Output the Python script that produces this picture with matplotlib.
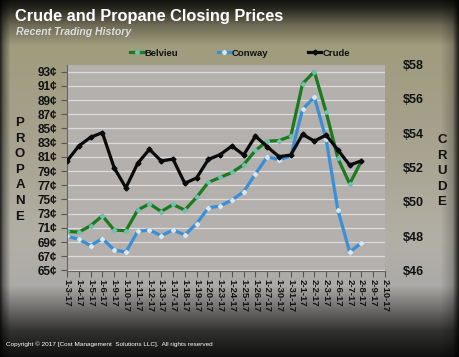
import numpy as np
import matplotlib
matplotlib.use("Agg")
import matplotlib.pyplot as plt

plt.rcParams['font.family'] = ['Liberation Sans', 'DejaVu Sans']

dates = ["1-3-17", "1-4-17", "1-5-17", "1-6-17", "1-9-17", "1-10-17", "1-11-17",
         "1-12-17", "1-13-17", "1-17-17", "1-18-17", "1-19-17", "1-20-17", "1-23-17",
         "1-24-17", "1-25-17", "1-26-17", "1-27-17", "1-30-17", "1-31-17", "2-1-17",
         "2-2-17", "2-3-17", "2-6-17", "2-7-17", "2-8-17", "2-9-17", "2-10-17"]

belvieu = [70.5, 70.4, 71.3, 72.7, 70.7, 70.6, 73.5, 74.4, 73.3, 74.3, 73.5, 75.3,
           77.4, 78.1, 78.8, 79.9, 81.9, 83.2, 83.3, 83.9, 91.3, 93.0, 87.3, 80.8,
           77.2, 80.4]
conway = [69.8, 69.4, 68.5, 69.5, 67.9, 67.6, 70.5, 70.7, 69.9, 70.7, 70.0, 71.6,
          73.8, 74.1, 74.9, 76.1, 78.6, 81.0, 80.6, 81.1, 87.7, 89.4, 83.5, 73.5,
          67.6, 68.9]
crude = [52.38, 53.25, 53.76, 54.03, 51.99, 50.82, 52.24, 53.06, 52.38, 52.49,
         51.08, 51.39, 52.47, 52.75, 53.25, 52.73, 53.83, 53.21, 52.63, 52.73,
         53.93, 53.54, 53.89, 53.02, 52.14, 52.39]

left_ticks = list(range(65, 94, 2))
right_ticks = list(range(46, 59, 2))

W, H = 460, 357
fig = plt.figure(figsize=(W / 100, H / 100), dpi=100)

# background gradient
bg = fig.add_axes([0, 0, 1, 1])
yy = np.arange(H)
ys = [0, 8, 25, 45, 120, 240, 285, 305, 330, 357]
rs = [18, 40, 110, 160, 165, 178, 172, 120, 50, 15]
gs = [18, 40, 106, 156, 160, 175, 170, 118, 50, 15]
bs = [14, 32, 85, 126, 138, 166, 166, 116, 48, 15]
col = np.stack([np.interp(yy, ys, rs), np.interp(yy, ys, gs), np.interp(yy, ys, bs)], axis=1)
xx = np.arange(W)
edge = np.interp(xx, [0, 3, 10, 440, 452, 457, 460], [0.25, 0.6, 1.0, 1.0, 0.8, 0.3, 0.1])
img = col[:, None, :] * edge[None, :, None]
bg.imshow(img.astype(np.uint8), aspect='auto', extent=[0, W, H, 0])
bg.set_xlim(0, W)
bg.set_ylim(H, 0)
bg.axis('off')

ax = fig.add_axes([67 / W, 1 - 270.5 / H, (385 - 67) / W, (270.5 - 64.5) / H])
ax.set_facecolor('#b3b0ae')
x = np.arange(len(dates))
ax.set_xlim(0, len(dates) - 1)
ax.set_ylim(65, 94)
ax.set_yticks(left_ticks)
ax.set_yticklabels([f"{v}¢" for v in left_ticks], fontsize=8.5, fontweight='bold', color='#111111')
ax.grid(axis='y', color='#dcdcdc', lw=0.9)
ax.set_axisbelow(True)
ax.set_xticks(x)
ax.set_xticklabels(dates, rotation=-90, fontsize=6.8, fontweight='bold', color='#111111')
ax.tick_params(axis='x', length=4, color='#555555', pad=2)
ax.tick_params(axis='y', length=4, color='#555555', pad=3)
for s in ['top', 'right']:
    ax.spines[s].set_visible(False)
for s in ['left', 'bottom']:
    ax.spines[s].set_color('#666666')

ax2 = ax.twinx()
ax2.set_ylim(46, 58)
ax2.set_yticks(right_ticks)
ax2.set_yticklabels([f"${v}" for v in right_ticks], fontsize=9, fontweight='bold', color='#111111')
ax2.tick_params(axis='y', length=0, pad=13)
for s in ax2.spines.values():
    s.set_visible(False)

n = len(belvieu)
l1, = ax.plot(x[:n], belvieu, color='#1b7a1b', lw=2.3, marker='D', ms=2.2,
              mfc='#6fc0b0', mec='#6fc0b0', label='Belvieu')
l2, = ax.plot(x[:len(conway)], conway, color='#3c8fd4', lw=2.3, marker='D', ms=2.2,
              mfc='#d8e8f0', mec='#d8e8f0', label='Conway')
l3, = ax2.plot(x[:len(crude)], crude, color='#0a0a0a', lw=2.3, marker='D', ms=2.5,
               mfc='#0a0a0a', mec='#0a0a0a', label='Crude')

leg = fig.legend(handles=[l1, l2, l3], loc='center', bbox_to_anchor=(0.522, 1 - 53 / H),
                 ncol=3, frameon=False, handlelength=1.4, handletextpad=0.1,
                 columnspacing=4.2, prop={'weight': 'bold', 'size': 6.8})
for t in leg.get_texts():
    t.set_color('#111111')

fig.text(15 / W, 1 - 16 / H, "Crude and Propane Closing Prices", color='white',
         fontsize=11.8, fontweight='bold', va='center', ha='left')
fig.text(16 / W, 1 - 32 / H, "Recent Trading History", color='#dddddd',
         fontsize=7.6, fontweight='bold', style='italic', va='center', ha='left')

for i, ch in enumerate("PROPANE"):
    fig.text(20 / W, 1 - (123 + i * 15.6) / H, ch, fontsize=9.5, fontweight='bold',
             color='#111111', ha='center', va='center')
for i, ch in enumerate("CRUDE"):
    fig.text(442 / W, 1 - (140 + i * 15.6) / H, ch, fontsize=9.5, fontweight='bold',
             color='#111111', ha='center', va='center')

fig.text(6 / W, 1 - 344 / H, "Copyright © 2017 [Cost Management  Solutions LLC].  All rights reserved",
         color='white', fontsize=4.6, ha='left', va='center')

fig.savefig('out.png', dpi=100)
